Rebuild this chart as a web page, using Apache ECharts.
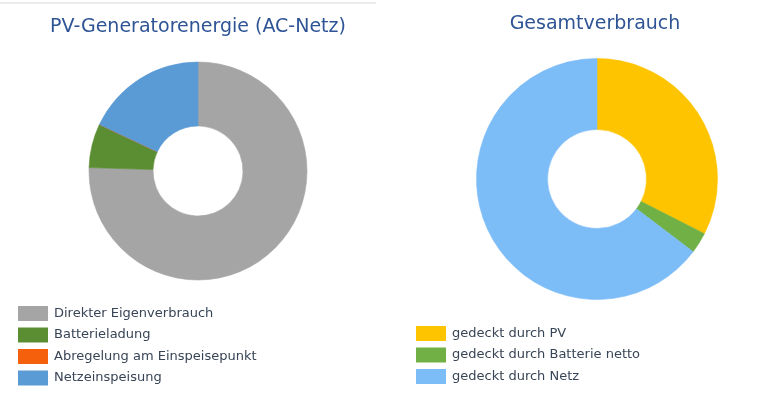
<!DOCTYPE html>
<html>
<head>
    <meta charset="utf-8">
    <title>PV Energie</title>
    <script src="https://cdn.jsdelivr.net/npm/echarts@6/dist/echarts.min.js"></script>
    <style>
        html, body { margin: 0; padding: 0; background: #fff; }
    </style>
</head>
<body>
    <div id="chart" style="width: 781px;height:400px;"></div>
    <script type="text/javascript">
        // Daten (Anteile in %)
        var pvCategories = ['Direkter Eigenverbrauch', 'Batterieladung', 'Abregelung am Einspeisepunkt', 'Netzeinspeisung'];
        var pvValues = [75.5, 6.5, 0, 18.0];
        var verbrauchCategories = ['gedeckt durch PV', 'gedeckt durch Batterie netto', 'gedeckt durch Netz'];
        var verbrauchValues = [32.5, 2.8, 64.7];

        var pvColors = ['#a5a5a5', '#5b8e32', '#f4600c', '#5b9bd5'];
        var verbrauchColors = ['#ffc400', '#70b044', '#7cbcf7'];

        // Rand in Segmentfarbe, damit keine weissen Fugen sichtbar sind
        function buildData(names, values, colors) {
            return names.map(function (n, i) {
                return {
                    name: n, value: values[i],
                    itemStyle: { color: colors[i], borderColor: colors[i], borderWidth: 0.6 }
                };
            });
        }

        var font = 'DejaVu Sans';
        var myChart = echarts.init(document.getElementById('chart'));

        var legendBase = {
            orient: 'vertical',
            icon: 'rect',
            itemWidth: 30, itemHeight: 15, itemGap: 6.5,
            selectedMode: false,
            itemStyle: { borderWidth: 0 },
            textStyle: { fontFamily: font, fontSize: 13, color: '#384556', padding: [0, 0, 0, 1] }
        };

        var option = {
            animation: false,
            title: [{
                text: 'PV-Generatorenergie (AC-Netz)',
                left: 193, top: 13, textAlign: 'center',
                textStyle: { fontFamily: font, fontSize: 19, fontWeight: 'normal', color: '#2f5496' }
            }, {
                text: 'Gesamtverbrauch',
                left: 590, top: 10, textAlign: 'center',
                textStyle: { fontFamily: font, fontSize: 19, fontWeight: 'normal', color: '#2f5496' }
            }],
            legend: [
                Object.assign({ data: pvCategories, left: 13, top: 301 }, legendBase),
                Object.assign({ data: verbrauchCategories, left: 411, top: 321 }, legendBase)
            ],
            graphic: [{
                type: 'line',
                shape: { x1: 0, y1: 3, x2: 376, y2: 3 },
                style: { stroke: '#d9d9d9', lineWidth: 1 }
            }],
            series: [{
                name: 'PV-Generatorenergie',
                type: 'pie',
                center: [198, 171],
                radius: [45, 109],
                startAngle: 90,
                clockwise: true,
                label: { show: false },
                labelLine: { show: false },
                emphasis: { disabled: true },
                data: buildData(pvCategories, pvValues, pvColors)
            }, {
                name: 'Gesamtverbrauch',
                type: 'pie',
                center: [597, 179],
                radius: [49.5, 120.5],
                startAngle: 90,
                clockwise: true,
                label: { show: false },
                labelLine: { show: false },
                emphasis: { disabled: true },
                data: buildData(verbrauchCategories, verbrauchValues, verbrauchColors)
            }]
        };

        myChart.setOption(option);
    </script>
</body>
</html>
